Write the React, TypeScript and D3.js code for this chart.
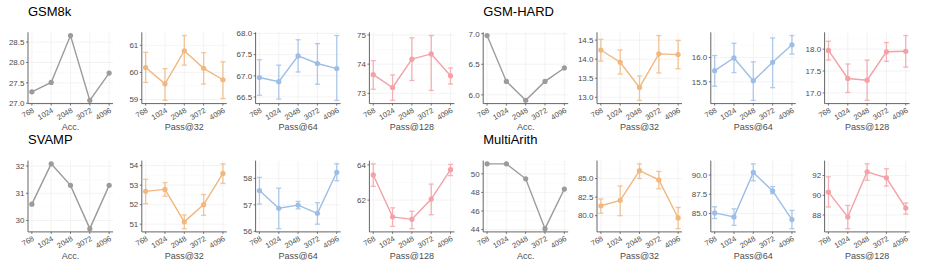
import React from "react";
import * as d3 from "d3";

const categories = ["768", "1024", "2048", "3072", "4096"];
const datasets = ["GSM8k", "GSM-HARD", "SVAMP", "MultiArith"];
const metrics = ["Acc.", "Pass@32", "Pass@64", "Pass@128"];
const colors = ["#9b9b9b", "#f1b77e", "#9cbee6", "#f3a1a6"];

// GSM8k
const gsm8kAcc = [27.28, 27.51, 28.66, 27.07, 27.74];
const gsm8kP32 = [60.18, 59.58, 60.8, 60.15, 59.73];
const gsm8kP32Lo = [59.63, 58.97, 60.27, 59.57, 59.04];
const gsm8kP32Hi = [60.74, 60.14, 61.36, 60.73, 60.39];
const gsm8kP64 = [66.96, 66.86, 67.47, 67.29, 67.17];
const gsm8kP64Lo = [66.54, 66.45, 67.09, 66.8, 66.42];
const gsm8kP64Hi = [67.38, 67.25, 67.85, 67.76, 67.95];
const gsm8kP128 = [73.64, 73.2, 74.17, 74.35, 73.6];
const gsm8kP128Lo = [73.14, 72.76, 73.44, 73.1, 73.32];
const gsm8kP128Hi = [74.12, 73.63, 74.9, 74.98, 73.87];

// GSM-HARD
const hardAcc = [6.97, 6.22, 5.91, 6.22, 6.44];
const hardP32 = [14.24, 13.92, 13.26, 14.14, 14.12];
const hardP32Lo = [13.95, 13.61, 12.92, 13.64, 13.75];
const hardP32Hi = [14.52, 14.24, 13.56, 14.62, 14.49];
const hardP64 = [15.73, 15.99, 15.52, 15.9, 16.26];
const hardP64Lo = [15.41, 15.69, 15.12, 15.38, 16.07];
const hardP64Hi = [16.04, 16.29, 15.91, 16.4, 16.45];
const hardP128 = [17.97, 17.33, 17.29, 17.94, 17.95];
const hardP128Lo = [17.75, 17.01, 16.83, 17.72, 17.59];
const hardP128Hi = [18.18, 17.66, 17.75, 18.15, 18.31];

// SVAMP
const svampAcc = [30.6, 32.08, 31.29, 29.7, 31.29];
const svampP32 = [52.68, 52.78, 51.12, 52.0, 53.6];
const svampP32Lo = [52.05, 52.43, 50.77, 51.45, 53.09];
const svampP32Hi = [53.3, 53.13, 51.47, 52.52, 54.09];
const svampP64 = [57.54, 56.87, 56.99, 56.68, 58.23];
const svampP64Lo = [57.03, 56.1, 56.85, 56.27, 57.91];
const svampP64Hi = [58.04, 57.63, 57.13, 57.08, 58.55];
const svampP128 = [63.43, 61.05, 60.91, 62.06, 63.73];
const svampP128Lo = [62.78, 60.51, 60.38, 61.17, 63.39];
const svampP128Hi = [64.06, 61.56, 61.37, 62.91, 64.03];

// MultiArith
const multiAcc = [51.07, 51.07, 49.46, 44.1, 48.36];
const multiP32 = [81.33, 82.06, 86.06, 84.82, 79.69];
const multiP32Lo = [80.32, 80.0, 85.0, 83.62, 78.25];
const multiP32Hi = [82.24, 84.0, 86.98, 85.96, 81.1];
const multiP64 = [85.08, 84.56, 90.34, 87.93, 84.21];
const multiP64Lo = [84.34, 83.46, 89.25, 87.58, 83.03];
const multiP64Hi = [85.87, 85.6, 91.45, 88.5, 85.4];
const multiP128 = [90.32, 87.8, 92.37, 91.76, 88.71];
const multiP128Lo = [88.82, 86.62, 91.52, 90.93, 88.1];
const multiP128Hi = [91.86, 88.96, 93.18, 92.68, 89.22];

// tick values per panel
const gsm8kTicks = [[27.0, 27.5, 28.0, 28.5], [59, 60, 61], [66.5, 67.0, 67.5, 68.0], [73, 74, 75]];
const hardTicks = [[6.0, 6.5, 7.0], [13.0, 13.5, 14.0, 14.5], [15.5, 16.0], [17.0, 17.5, 18.0]];
const svampTicks = [[30, 31, 32], [51, 52, 53, 54], [56, 57, 58], [62, 64]];
const multiTicks = [[44, 46, 48, 50], [80.0, 82.5, 85.0], [85.0, 87.5, 90.0], [88, 90, 92]];

type Series = { mean: number[]; lo?: number[]; hi?: number[] };

const panels: { ds: number; series: Series[]; ticks: number[][] }[] = [
  {
    ds: 0,
    ticks: gsm8kTicks,
    series: [
      { mean: gsm8kAcc },
      { mean: gsm8kP32, lo: gsm8kP32Lo, hi: gsm8kP32Hi },
      { mean: gsm8kP64, lo: gsm8kP64Lo, hi: gsm8kP64Hi },
      { mean: gsm8kP128, lo: gsm8kP128Lo, hi: gsm8kP128Hi },
    ],
  },
  {
    ds: 1,
    ticks: hardTicks,
    series: [
      { mean: hardAcc },
      { mean: hardP32, lo: hardP32Lo, hi: hardP32Hi },
      { mean: hardP64, lo: hardP64Lo, hi: hardP64Hi },
      { mean: hardP128, lo: hardP128Lo, hi: hardP128Hi },
    ],
  },
  {
    ds: 2,
    ticks: svampTicks,
    series: [
      { mean: svampAcc },
      { mean: svampP32, lo: svampP32Lo, hi: svampP32Hi },
      { mean: svampP64, lo: svampP64Lo, hi: svampP64Hi },
      { mean: svampP128, lo: svampP128Lo, hi: svampP128Hi },
    ],
  },
  {
    ds: 3,
    ticks: multiTicks,
    series: [
      { mean: multiAcc },
      { mean: multiP32, lo: multiP32Lo, hi: multiP32Hi },
      { mean: multiP64, lo: multiP64Lo, hi: multiP64Hi },
      { mean: multiP128, lo: multiP128Lo, hi: multiP128Hi },
    ],
  },
];

const W = 937;
const H = 273;
const FONT = "'Liberation Sans', Arial, Helvetica, sans-serif";
const firstAxisX = 28;
const colStep = 113.8;
const plotW = 85;
const plotH = 71.3;
const rowTop = [32.3, 160.6];
const groupStep = 455.2;

function Panel({ x0, y0, s, ticks, color, label }: { x0: number; y0: number; s: Series; ticks: number[]; color: string; label: string }) {
  const all = [...s.mean, ...(s.lo || []), ...(s.hi || [])];
  const [mn, mx] = d3.extent(all) as [number, number];
  const pad = (mx - mn) * 0.05;
  const y = d3.scaleLinear().domain([mn - pad, mx + pad]).range([y0 + plotH, y0]);
  const x = d3.scalePoint<string>().domain(categories).range([x0, x0 + plotW]).padding(0.2);
  const decimals = ticks.some((t) => Math.abs(t - Math.round(t)) > 1e-9) ? 1 : 0;
  const fmt = (v: number) => v.toFixed(decimals);
  const line = d3
    .line<number>()
    .x((_, i) => x(categories[i]) as number)
    .y((d) => y(d));
  const bottom = y0 + plotH;
  const step = ticks.length > 1 ? ticks[1] - ticks[0] : 1;
  const minor: number[] = [];
  for (let t = ticks[0] - step / 2; t <= mx + pad; t += step) {
    if (t >= mn - pad) minor.push(t);
  }
  const axisColor = "#555";
  const textColor = "#4d4d4d";
  return (
    <g>
      {minor.map((t, i) => (
        <line key={"mn" + i} x1={x0} x2={x0 + plotW} y1={y(t)} y2={y(t)} stroke="#f4f4f4" strokeWidth={0.4} />
      ))}
      {ticks.map((t, i) => (
        <line key={"gy" + i} x1={x0} x2={x0 + plotW} y1={y(t)} y2={y(t)} stroke="#ebebeb" strokeWidth={0.6} />
      ))}
      {categories.map((c) => (
        <line key={"gx" + c} x1={x(c)} x2={x(c)} y1={y0} y2={bottom} stroke="#ebebeb" strokeWidth={0.6} />
      ))}
      {s.lo &&
        s.hi &&
        s.mean.map((_, i) => {
          const cx = x(categories[i]) as number;
          const yl = y(s.lo![i]);
          const yh = y(s.hi![i]);
          return (
            <g key={"eb" + i} stroke={color} strokeWidth={1.3} opacity={0.8}>
              <line x1={cx} x2={cx} y1={yl} y2={yh} />
              <line x1={cx - 2.5} x2={cx + 2.5} y1={yl} y2={yl} />
              <line x1={cx - 2.5} x2={cx + 2.5} y1={yh} y2={yh} />
            </g>
          );
        })}
      <path d={line(s.mean) || ""} fill="none" stroke={color} strokeWidth={1.4} />
      {s.mean.map((v, i) => (
        <circle key={"pt" + i} cx={x(categories[i])} cy={y(v)} r={2.6} fill={color} />
      ))}
      <line x1={x0} x2={x0} y1={y0} y2={bottom} stroke={axisColor} strokeWidth={0.9} />
      <line x1={x0} x2={x0 + plotW} y1={bottom} y2={bottom} stroke={axisColor} strokeWidth={0.9} />
      {ticks.map((t, i) => (
        <g key={"yt" + i}>
          <line x1={x0 - 2} x2={x0} y1={y(t)} y2={y(t)} stroke={axisColor} strokeWidth={0.8} />
          <text x={x0 - 3.5} y={y(t)} dy="0.35em" textAnchor="end" fontSize={8} fill={textColor} fontFamily={FONT}>
            {fmt(t)}
          </text>
        </g>
      ))}
      {categories.map((c) => {
        const cx = x(c) as number;
        return (
          <g key={"xt" + c}>
            <line x1={cx} x2={cx} y1={bottom} y2={bottom + 2} stroke={axisColor} strokeWidth={0.8} />
            <text
              transform={`translate(${cx + 2.8},${bottom + 8.2}) rotate(-30)`}
              textAnchor="end"
              fontSize={7.5}
              fill={textColor}
              fontFamily={FONT}
            >
              {c}
            </text>
          </g>
        );
      })}
      <text x={x0 + plotW / 2} y={bottom + 26.7} textAnchor="middle" fontSize={9} fill={textColor} fontFamily={FONT}>
        {label}
      </text>
    </g>
  );
}

export default function App() {
  return (
    <svg width={W} height={H} style={{ position: "absolute", left: 0, top: 0, background: "#fff" }}>
      {panels.map((p) => {
        const row = p.ds >= 2 ? 1 : 0;
        const grp = p.ds % 2;
        const y0 = rowTop[row];
        const gx = firstAxisX + grp * groupStep;
        return (
          <g key={p.ds}>
            <text x={gx} y={y0 - 16.5} fontSize={13} fill="#000" fontFamily={FONT}>
              {datasets[p.ds]}
            </text>
            {p.series.map((s, k) => (
              <Panel
                key={k}
                x0={gx + k * colStep}
                y0={y0}
                s={s}
                ticks={p.ticks[k]}
                color={colors[k]}
                label={metrics[k]}
              />
            ))}
          </g>
        );
      })}
    </svg>
  );
}
